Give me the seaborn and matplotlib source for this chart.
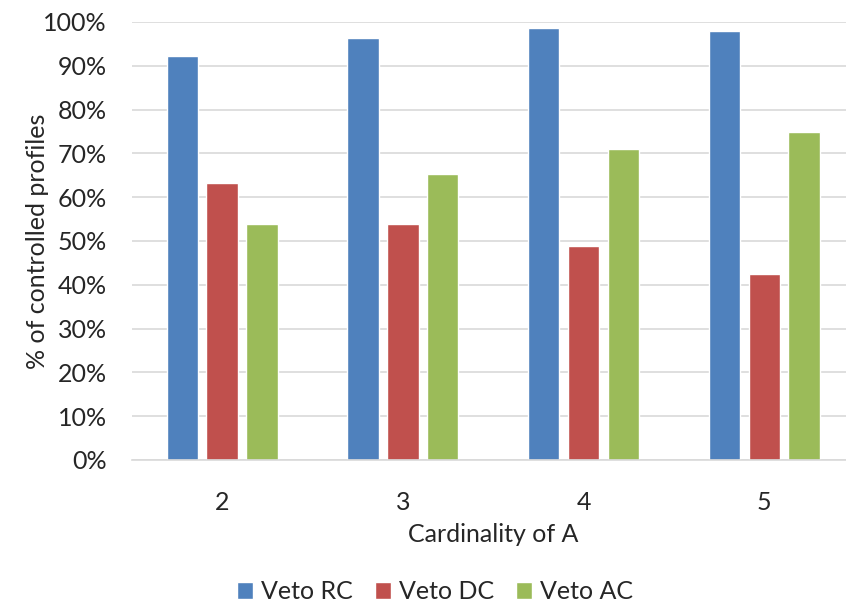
import numpy as np
import pandas as pd
import seaborn as sns
import matplotlib.pyplot as plt
from matplotlib.ticker import PercentFormatter

sns.set_theme(style="white")
plt.rcParams["font.family"] = ["Lato", "DejaVu Sans"]

# values (% of controlled profiles)
cardinality = ["2", "3", "4", "5"]
veto_rc = [92.3, 96.3, 98.6, 97.9]
veto_dc = [63.2, 53.8, 48.8, 42.5]
veto_ac = [53.9, 65.3, 71.0, 74.8]
series_names = ["Veto RC", "Veto DC", "Veto AC"]
colors = ["#4F81BD", "#C0504D", "#9BBB59"]

df = pd.DataFrame({
    "Cardinality": cardinality * 3,
    "Rule": np.repeat(series_names, len(cardinality)),
    "Value": veto_rc + veto_dc + veto_ac,
})

text_color = "#262626"
grid_color = "#D9D9D9"
fs = 18

fig = plt.figure(figsize=(8.46, 6.05), dpi=100)
ax = fig.add_axes([0.1557, 0.2397, 0.8545, 0.7240])

sns.barplot(data=df, x="Cardinality", y="Value", hue="Rule", order=cardinality,
            hue_order=series_names, palette=colors, width=0.66, gap=0.21,
            errorbar=None, saturation=1, ax=ax)

ax.set_ylim(0, 100)
ax.set_xlim(-0.5, 3.5)
ax.set_yticks(np.arange(0, 101, 10))
ax.yaxis.set_major_formatter(PercentFormatter(100, decimals=0))
ax.grid(axis="y", color=grid_color, linewidth=1.2)
ax.set_axisbelow(True)
for side in ["left", "right", "top"]:
    ax.spines[side].set_visible(False)
ax.spines["bottom"].set_color(grid_color)
ax.spines["bottom"].set_linewidth(1.2)

ax.tick_params(axis="both", length=0, labelsize=fs, labelcolor=text_color)
ax.tick_params(axis="y", pad=18)
ax.tick_params(axis="x", pad=22)

ax.set_xlabel("Cardinality of A", fontsize=fs, color=text_color)
ax.set_ylabel("% of controlled profiles", fontsize=fs, color=text_color)
ax.xaxis.set_label_coords(0.5, -0.169)
ax.xaxis.label.set_va("center")
ax.yaxis.set_label_coords(-0.131, 0.5)
ax.yaxis.label.set_va("center")

handles, labels = ax.get_legend_handles_labels()
ax.get_legend().remove()
fig.legend(handles, labels, loc="center", bbox_to_anchor=(0.514, 0.0215), ncol=3,
           frameon=False, fontsize=fs, labelcolor=text_color,
           handlelength=0.65, handleheight=0.65, handletextpad=0.3,
           columnspacing=0.9)

fig.savefig("out.png", dpi=100)
